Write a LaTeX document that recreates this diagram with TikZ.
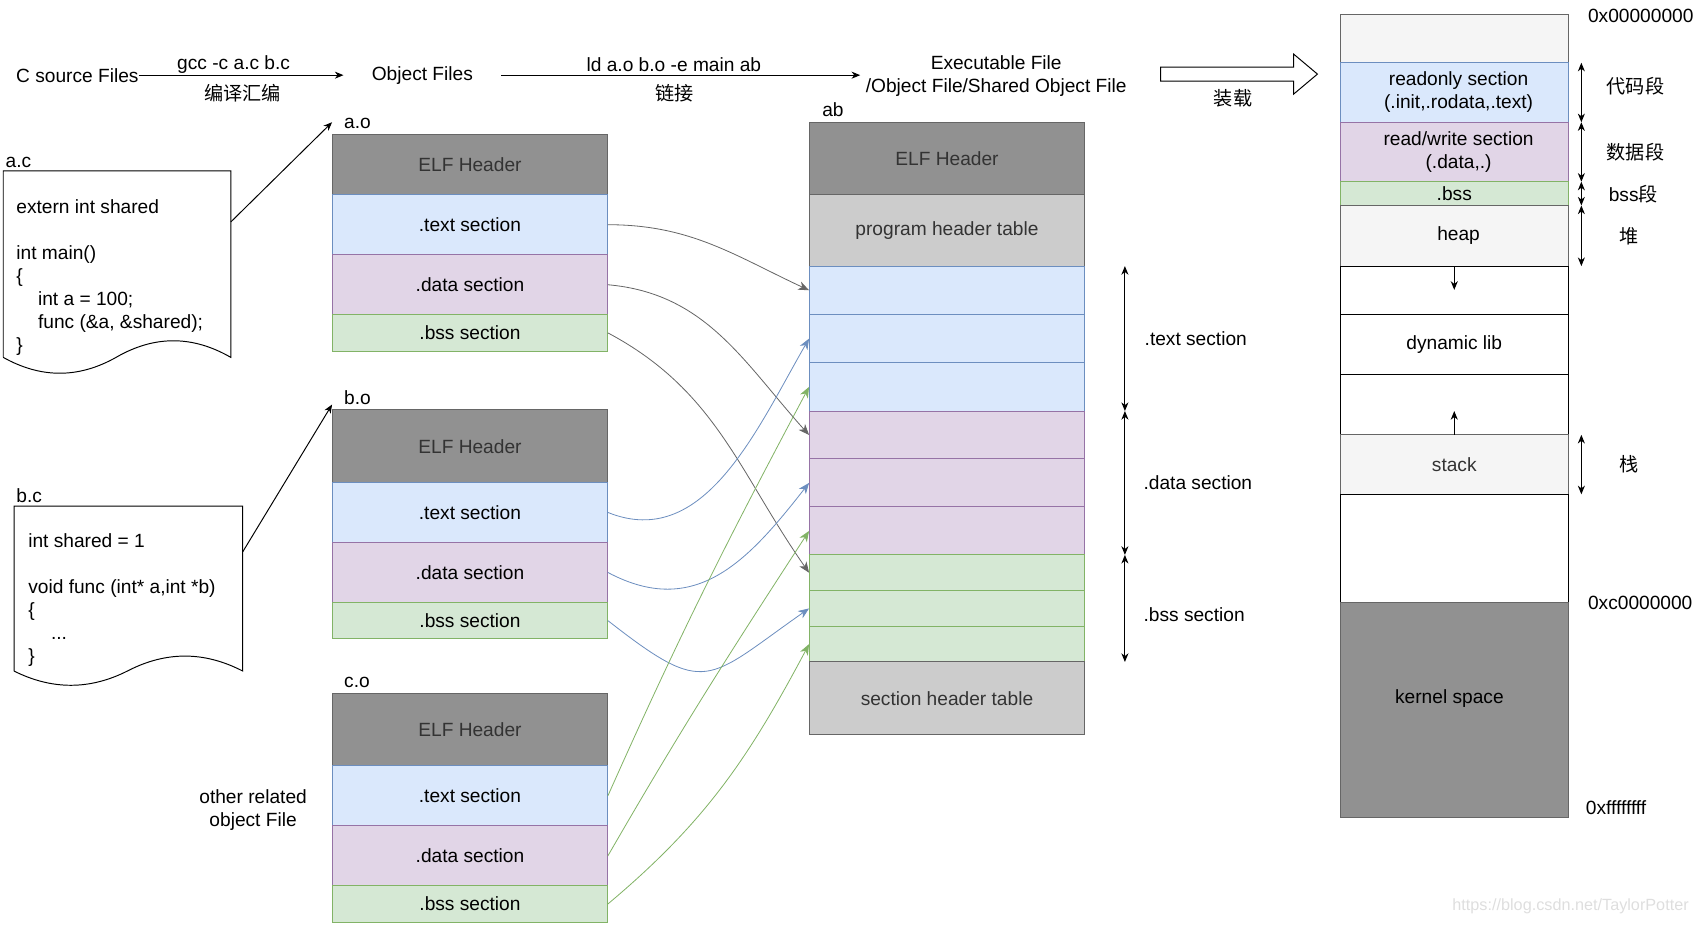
\documentclass[tikz,border=0pt]{standalone}
\usepackage{fontspec}
\setmainfont{Liberation Sans}
\newfontfamily\cjk{Noto Sans CJK SC}
\usetikzlibrary{arrows.meta,positioning}
\definecolor{elfgray}{HTML}{919191}
\definecolor{linegray}{HTML}{666666}
\definecolor{txtgray}{HTML}{333333}
\definecolor{tblgray}{HTML}{CCCCCC}
\definecolor{memgray}{HTML}{F5F5F5}
\definecolor{textfill}{HTML}{DAE8FC}
\definecolor{textline}{HTML}{6C8EBF}
\definecolor{datafill}{HTML}{E1D5E7}
\definecolor{dataline}{HTML}{9673A6}
\definecolor{bssfill}{HTML}{D5E8D4}
\definecolor{bssline}{HTML}{82B366}
\newcommand\fsz{\fontsize{17.7}{21.3}\selectfont}
\tikzset{>={Stealth[length=8pt,width=6.5pt,inset=2.5pt]},
  every node/.style={font=\fsz},
  blk/.style={draw, line width=0.9pt, inner sep=0pt, outer sep=0pt, anchor=north west},
  elfblk/.style={blk, fill=elfgray, draw=linegray, text=txtgray, minimum width=255pt},
  tblblk/.style={blk, fill=tblgray, draw=linegray, text=txtgray, minimum width=255pt},
  textblk/.style={blk, fill=textfill, draw=textline, minimum width=255pt},
  datablk/.style={blk, fill=datafill, draw=dataline, minimum width=255pt},
  bssblk/.style={blk, fill=bssfill, draw=bssline, minimum width=255pt},
  memblk/.style={blk, fill=memgray, draw=linegray, minimum width=211pt},
  voidblk/.style={blk, fill=white, draw=black, minimum width=211pt},
  doc/.style={inner sep=0pt, anchor=north west},
  code/.style={inner sep=0pt, anchor=north west, align=left},
  link/.style={-{Stealth[length=10pt,width=8pt,inset=3pt]}, line width=0.75pt},
  dim/.style={<->, line width=0.9pt}
}

\begin{document}
\begin{tikzpicture}[x=1pt,y=-1pt]
\useasboundingbox (0,0) rectangle (1568,855);

\node[inner sep=0pt] (csrc) at (71.5,69.5) {C source Files};
\node[inner sep=0pt] (objf) at (390.5,69.5) {Object Files};
\node[inner sep=0pt, align=center] (exe) at (921,70) {Executable File\\/Object File/Shared Object File};
\draw[->, line width=0.9pt, shorten >=26pt] (csrc.east) -- (objf.west);
\draw[->, line width=0.9pt, shorten <=26pt, shorten >=5pt] (objf.east) -- (objf.east -| exe.west);
\node (gcc) at (216,59.5) {gcc -c a.c b.c};
\node (gcc-cn) at (224.5,86) {\cjk 编译汇编};
\node (ld) at (623,59.5) {ld a.o b.o -e main ab};
\node (ld-cn) at (624,86) {\cjk 链接};
\draw[line width=0.9pt, fill=white] (1073,62) -- (1196,62) -- (1196,50) -- (1218,68.5)
  -- (1196,87) -- (1196,75) -- (1073,75) -- cycle;
\node (load-cn) at (1140,91) {\cjk 装载};

\node[doc, minimum width=210pt, minimum height=172pt] (ac) at (3,158) {};
\draw[line width=0.9pt] (ac.south west) -- (ac.north west) -- (ac.north east) -- (ac.south east)
  .. controls (178,310) and (143,310) .. (108,330) .. controls (73,350) and (38,350) .. (ac.south west);
\node[inner sep=0pt, anchor=base west] (ac-name) at ([xshift=2pt,yshift=3.5pt]ac.north west) {a.c};
\node[code] (ac-code) at (15,184) {extern int shared\\[21.3pt]int main()\\\{\\\hspace*{20pt}int a = 100;\\\hspace*{20pt}func (\&a, \&shared);\\\}};

\node[doc, minimum width=211pt, minimum height=152pt] (bc) at (13,468) {};
\draw[line width=0.9pt] (bc.south west) -- (bc.north west) -- (bc.north east) -- (bc.south east)
  .. controls (188.8,602) and (153.7,602) .. (118.5,620) .. controls (83.3,638) and (48.2,638) .. (bc.south west);
\node[inner sep=0pt, anchor=base west] (bc-name) at ([xshift=2pt,yshift=3.5pt]bc.north west) {b.c};
\node[code] (bc-code) at (26,493) {int shared = 1\\[21.2pt]void func (int* a,int *b)\\\{\\\hspace*{21pt}...\\\}};

\node[align=center] (other) at (234,749) {other related\\object File};

\foreach \f/\top/\eh in {a/124/56,b/379/67,c/641/67} {
  \node[elfblk, minimum height=\eh pt] (\f o-elf) at (307,\top) {ELF Header};
  \node[textblk, minimum height=55.5pt, below=0pt of \f o-elf] (\f o-text) {.text section};
  \node[datablk, minimum height=55.5pt, below=0pt of \f o-text] (\f o-data) {.data section};
  \node[bssblk, minimum height=33.5pt, below=0pt of \f o-data] (\f o-bss) {.bss section};
  \node[inner sep=0pt, anchor=base west] (\f o-name) at ([xshift=11pt,yshift=5pt]\f o-elf.north west) {\f.o};
}
\draw[->, line width=0.9pt] ([yshift=39pt]ac.east) -- ([yshift=11pt]ao-elf.north west);
\draw[->, line width=0.9pt] ([yshift=34pt]bc.east) -- ([yshift=5pt]bo-elf.north west);

\node[elfblk, minimum height=67pt] (ab-elf) at (748,113) {ELF Header};
\node[tblblk, minimum height=66pt, below=0pt of ab-elf] (ab-pht) {program header table};
\foreach \i/\y in {1/246,2/290.7,3/335.3}
  \node[textblk, minimum height=44.7pt] (ab-t\i) at (748,\y) {};
\foreach \i/\y in {1/380,2/424.3,3/468.7}
  \node[datablk, minimum height=44.3pt] (ab-d\i) at (748,\y) {};
\foreach \i/\y in {1/513,2/546,3/579}
  \node[bssblk, minimum height=33pt] (ab-b\i) at (748,\y) {};
\node[tblblk, minimum height=67pt] (ab-sht) at (748,612) {section header table};
\node[inner sep=0pt, anchor=base west] (ab-name) at ([xshift=12pt,yshift=5pt]ab-elf.north west) {ab};

\draw[dim] ([xshift=37pt]ab-t1.north east) -- ([xshift=37pt]ab-t3.south east)
  node[midway, right=14.5pt] (lbl-text) {.text section};
\draw[dim] ([xshift=37pt]ab-d1.north east) -- ([xshift=37pt]ab-d3.south east)
  node[midway, right=13.5pt] (lbl-data) {.data section};
\draw[dim] ([xshift=37pt]ab-b1.north east) -- ([xshift=37pt]ab-b3.south east)
  node[pos=0.56, right=13.5pt] (lbl-bss) {.bss section};

\draw[link, linegray] (ao-text.east) to[out=0, in=155] (ab-t1.west);
\draw[link, linegray] (ao-data.east) to[out=-5, in=132] (ab-d1.west);
\draw[link, linegray] (ao-bss.east) to[out=-28, in=125] (ab-b1.west);
\draw[link, textline] (bo-text.east) to[out=-22, in=-120] (ab-t2.west);
\draw[link, textline] (bo-data.east) to[out=-28, in=-128, looseness=1.15] (ab-d2.west);
\draw[link, textline] (bo-bss.east) to[out=-38, in=-145, looseness=1.6] (ab-b2.west);
\draw[link, bssline] (co-text.east) to[out=66, in=-118] (ab-t3.west);
\draw[link, bssline] (co-data.east) to[out=60, in=-123] (ab-d3.west);
\draw[link, bssline] (co-bss.east) to[out=40, in=-118] (ab-b3.west);

\node[memblk, minimum height=45pt] (mem-top) at (1239,13) {};
\node[memblk, fill=textfill, draw=textline, minimum height=55pt, align=center] (mem-ro) at (1239,58) {\hspace*{8pt}readonly section\\\hspace*{8pt}(.init,.rodata,.text)};
\node[memblk, fill=datafill, draw=dataline, minimum height=55pt, align=center] (mem-rw) at (1239,113) {\hspace*{8pt}read/write section\\\hspace*{8pt}(.data,.)};
\node[memblk, fill=bssfill, draw=bssline, minimum height=22pt] (mem-bss) at (1239,168) {.bss};
\node[memblk, minimum height=56pt] (mem-heap) at (1239,190) {\hspace*{8pt}heap};
\node[voidblk, minimum height=45pt] (mem-gap1) at (1239,246) {};
\node[voidblk, minimum height=55pt] (mem-dyn) at (1239,291) {dynamic lib};
\node[voidblk, minimum height=56pt] (mem-gap2) at (1239,346) {};
\node[memblk, minimum height=55pt, text=txtgray] (mem-stack) at (1239,402) {stack};
\node[voidblk, minimum height=100pt] (mem-gap3) at (1239,457) {};
\node[memblk, fill=elfgray, minimum height=199pt] (mem-kern) at (1239,557) {};
\node (kern-txt) at (1340,646) {kernel space};
\draw[->, line width=0.9pt] (mem-gap1.north) -- ++(0,22);
\draw[->, line width=0.9pt] (mem-stack.north) -- ++(0,-22);

\foreach \n in {ro,rw,bss,heap,stack}
  \draw[dim] ([xshift=12pt]mem-\n.north east) -- ([xshift=12pt]mem-\n.south east);
\node (seg-code) at (1512,80) {\cjk 代码段};
\node (seg-data) at (1512,141) {\cjk 数据段};
\node (seg-bss) at (1510,180) {bss\cjk 段};
\node (seg-heap) at (1506,218) {\cjk 堆};
\node (seg-stack) at (1506,429) {\cjk 栈};

\node[inner sep=0pt, anchor=west] (addr-low) at (1468,14.5) {0x00000000};
\node[inner sep=0pt, anchor=west] (addr-kern) at (1468,557.5) {0xc0000000};
\node[inner sep=0pt, anchor=west] (addr-high) at (1466,746.5) {0xffffffff};

\node[text=black!13, font=\fontsize{15}{18}\selectfont] (wm) at (1452,838) {https://blog.csdn.net/TaylorPotter};
\end{tikzpicture}
\end{document}
